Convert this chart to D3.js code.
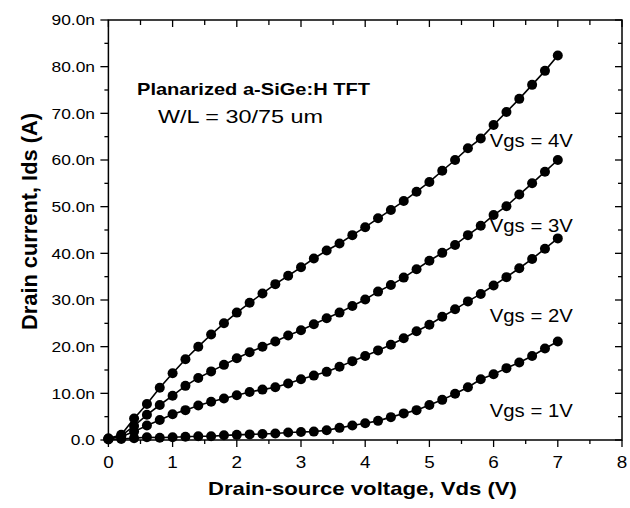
<!DOCTYPE html>
<html><head><meta charset="utf-8">
<script src="https://cdn.jsdelivr.net/npm/d3@7"></script>
<style>body{margin:0;background:#fff}svg{display:block}text{font-family:"Liberation Sans",Arial,sans-serif;fill:#000}</style>
</head><body>
<svg id="c" width="630" height="508"></svg>
<script>
const vds = [0,0.2,0.4,0.6,0.8,1.0,1.2,1.4,1.6,1.8,2.0,2.2,2.4,2.6,2.8,3.0,3.2,3.4,3.6,3.8,4.0,4.2,4.4,4.6,4.8,5.0,5.2,5.4,5.6,5.8,6.0,6.2,6.4,6.6,6.8,7.0];
const ids4 = [0.3,1.1,4.6,7.7,11.2,14.3,17.3,20.0,22.6,25.0,27.3,29.4,31.4,33.4,35.2,37.0,38.9,40.6,42.1,43.9,45.6,47.5,49.3,51.2,53.2,55.3,57.7,60.0,62.5,64.6,67.5,70.3,73.1,76.1,79.1,82.4];
const ids3 = [0.3,0.9,3.0,5.4,7.5,9.5,11.6,13.3,14.7,16.1,17.5,18.8,20.0,21.1,22.4,23.5,24.8,26.1,27.3,28.7,30.1,31.8,33.2,34.8,36.6,38.4,40.1,41.8,43.9,45.9,48.2,50.1,52.6,55.0,57.5,60.0];
const ids2 = [0.2,0.7,1.8,3.1,4.3,5.5,6.4,7.4,8.2,8.9,9.6,10.3,10.8,11.3,12.1,13.0,13.8,14.6,15.7,16.9,18.0,19.2,20.4,21.8,23.3,24.7,26.4,28.0,29.7,31.3,33.1,34.9,36.8,38.8,41.0,43.2];
const ids1 = [0.1,0.2,0.4,0.6,0.5,0.6,0.7,0.8,0.8,1.0,1.1,1.2,1.3,1.4,1.6,1.7,1.8,2.1,2.6,3.1,3.6,4.1,4.9,5.7,6.4,7.5,8.6,9.9,11.3,13.0,14.1,15.4,16.6,18.0,19.6,21.1];
const seriesNames = ["Vgs = 4V","Vgs = 3V","Vgs = 2V","Vgs = 1V"];
const xTicks = [0,1,2,3,4,5,6,7,8];
const yTicks = [0,10,20,30,40,50,60,70,80,90];
const yTickLabels = ["0.0","10.0n","20.0n","30.0n","40.0n","50.0n","60.0n","70.0n","80.0n","90.0n"];
const title1 = "Planarized a-SiGe:H TFT";
const title2 = "W/L = 30/75 um";
const xTitle = "Drain-source voltage, Vds (V)";
const yTitle = "Drain current, Ids (A)";

const svg = d3.select("#c");
const L=108.4, R=622, T=20, B=440;
const x = d3.scaleLinear().domain([0,8]).range([L,R]);
const y = d3.scaleLinear().domain([0,90]).range([B,T]);

const g = svg.append("g");
g.append("rect").attr("x",L).attr("y",T).attr("width",R-L).attr("height",B-T)
 .attr("fill","none").attr("stroke","#000").attr("stroke-width",1.5);

const xMinor = d3.range(0.5,8,1);
const yMinor = d3.range(5,90,10);
function tk(sel){sel.attr("stroke","#000").attr("stroke-width",1.3);}
xTicks.forEach(v=>tk(g.append("line").attr("x1",x(v)).attr("x2",x(v)).attr("y1",B).attr("y2",B+7)));
xMinor.forEach(v=>tk(g.append("line").attr("x1",x(v)).attr("x2",x(v)).attr("y1",B).attr("y2",B+4)));
xTicks.forEach(v=>tk(g.append("line").attr("x1",x(v)).attr("x2",x(v)).attr("y1",T).attr("y2",T+7)));
xMinor.forEach(v=>tk(g.append("line").attr("x1",x(v)).attr("x2",x(v)).attr("y1",T).attr("y2",T+5)));
yTicks.forEach(v=>tk(g.append("line").attr("x1",L-8).attr("x2",L).attr("y1",y(v)).attr("y2",y(v))));
yMinor.forEach(v=>tk(g.append("line").attr("x1",L-4).attr("x2",L).attr("y1",y(v)).attr("y2",y(v))));
yTicks.forEach(v=>tk(g.append("line").attr("x1",R-7).attr("x2",R).attr("y1",y(v)).attr("y2",y(v))));
yMinor.forEach(v=>tk(g.append("line").attr("x1",R-4).attr("x2",R).attr("y1",y(v)).attr("y2",y(v))));

function txt(px,py,str,size,opts={}){
  const gg = g.append("g").attr("transform",`translate(${px},${py}) ${opts.rot?`rotate(${opts.rot})`:""} scale(${opts.sx||1},1)`);
  const t = gg.append("text").attr("x",0).attr("y",0).attr("font-size",size)
    .attr("text-anchor",opts.anchor||"start").text(str);
  if(opts.bold) t.attr("font-weight","bold");
  if(opts.dy) t.attr("dy",opts.dy);
  if(opts.len) t.attr("textLength",opts.len).attr("lengthAdjust","spacingAndGlyphs");
  return t;
}

xTicks.forEach(v=>txt(x(v),468,String(v),16,{anchor:"middle",sx:1.18}));
yTicks.forEach((v,i)=>txt(95,y(v),yTickLabels[i],14.5,{anchor:"end",sx:1.2,dy:"0.36em"}));

txt(208,495,xTitle,18.5,{bold:true,len:309});
txt(37,221.5,yTitle,21.5,{bold:true,rot:-90,anchor:"middle",len:217});

txt(137,95,title1,16.5,{bold:true,len:233});
txt(158,123,title2,18,{len:165});

const labAt = [[5.94,62.8],[5.94,44.6],[5.94,25.3],[5.94,5.0]];
seriesNames.forEach((s,i)=>txt(x(labAt[i][0]),y(labAt[i][1]),s,17.5,{len:83}));

const all = [ids4,ids3,ids2,ids1];
const line = d3.line().x((d,i)=>x(vds[i])).y(d=>y(d));
all.forEach(arr=>{
  g.append("path").attr("d",line(arr)).attr("fill","none").attr("stroke","#000").attr("stroke-width",1.6);
  g.selectAll(null).data(arr).enter().append("circle")
   .attr("cx",(d,i)=>x(vds[i])).attr("cy",d=>y(d)).attr("r",5).attr("fill","#000");
});
</script>
</body></html>
